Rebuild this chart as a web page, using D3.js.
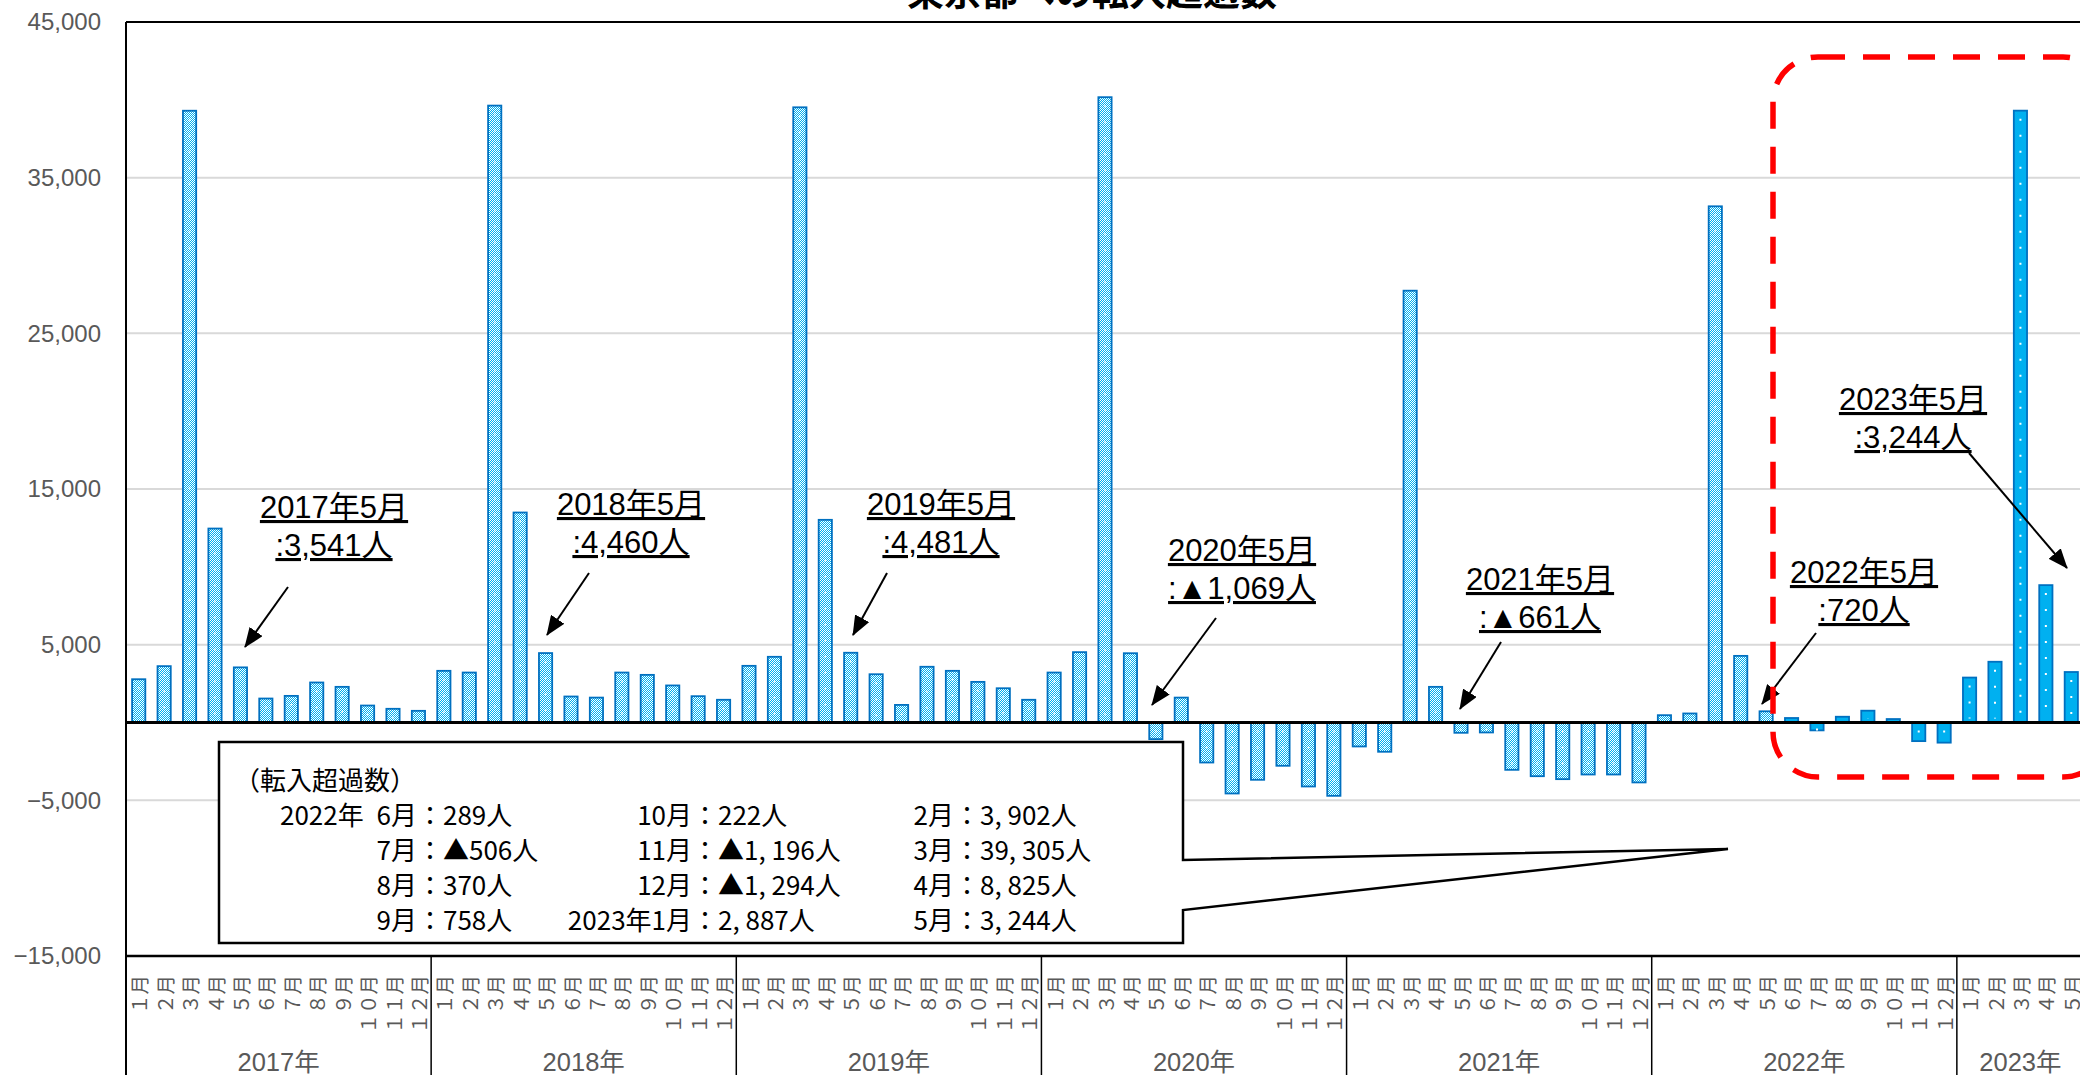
<!DOCTYPE html>
<html><head><meta charset="utf-8">
<script src="https://cdn.jsdelivr.net/npm/d3@7"></script>
<style>
html,body{margin:0;padding:0;background:#fff;overflow:hidden}
svg{display:block}
</style></head><body>
<svg id="c" width="2080" height="1075"></svg>
<script>
// ---------- data ----------
const chartTitle = "東京都への転入超過数";
const years = ["2017年","2018年","2019年","2020年","2021年","2022年","2023年"];
const monthLabels = ["１月","２月","３月","４月","５月","６月","７月","８月","９月","１０月","１１月","１２月"];
const v2017 = [2780, 3620, 39300, 12460, 3541, 1540, 1710, 2570, 2290, 1090, 880, 750];
const v2018 = [3320, 3210, 39630, 13490, 4460, 1670, 1600, 3210, 3060, 2380, 1690, 1460];
const v2019 = [3640, 4220, 39520, 13020, 4481, 3100, 1130, 3580, 3320, 2610, 2200, 1460];
const v2020 = [3210, 4520, 40170, 4450, -1069, 1600, -2570, -4560, -3680, -2780, -4110, -4710];
const v2021 = [-1540, -1880, 27740, 2290, -661, -640, -3040, -3450, -3640, -3340, -3340, -3850];
const v2022 = [470, 580, 33160, 4280, 720, 289, -506, 370, 758, 222, -1196, -1294];
const v2023 = [2887, 3902, 39305, 8825, 3244];
const yTicks = [45000, 35000, 25000, 15000, 5000, -5000, -15000];
const highlightFrom = "2022年6月";
const annTexts = [
  ["2017年5月", ":3,541人"],
  ["2018年5月", ":4,460人"],
  ["2019年5月", ":4,481人"],
  ["2020年5月", ":▲1,069人"],
  ["2021年5月", ":▲661人"],
  ["2022年5月", ":720人"],
  ["2023年5月", ":3,244人"]
];
const calloutTitle = "（転入超過数）";
const calloutYear = "2022年";
const calloutCol1 = [["6月","289人"],["7月","▲506人"],["8月","370人"],["9月","758人"]];
const calloutCol2 = [["10月","222人"],["11月","▲1, 196人"],["12月","▲1, 294人"],["2023年1月","2, 887人"]];
const calloutCol3 = [["2月","3, 902人"],["3月","39, 305人"],["4月","8, 825人"],["5月","3, 244人"]];

// ---------- layout ----------
const plot = {left:126, right:2084, top:22, bottom:956};
const annLayout = [
  {cx:334,  y1:518, ax:288,  ay:587, tx:245,  ty:647},
  {cx:631,  y1:515, ax:589,  ay:573, tx:547,  ty:635},
  {cx:941,  y1:515, ax:887,  ay:573, tx:853,  ty:635},
  {cx:1242, y1:561, ax:1216, ay:618, tx:1152, ty:705},
  {cx:1540, y1:590, ax:1501, ay:642, tx:1460, ty:709},
  {cx:1864, y1:583, ax:1816, ay:633, tx:1762, ty:704},
  {cx:1913, y1:410, ax:1969, ay:453, tx:2067, ty:568}
];
const lineGap = 38;

const values = [].concat(v2017, v2018, v2019, v2020, v2021, v2022, v2023);
const keys = values.map((v,i) => years[Math.floor(i/12)].replace("年","") + "年" + (i%12+1) + "月");
const hiIndex = keys.indexOf(highlightFrom);

const svg = d3.select("#c");
const x = d3.scaleBand().domain(d3.range(values.length))
  .range([plot.left, plot.right]).paddingInner(0.48).paddingOuter(0.24);
const y = d3.scaleLinear().domain([-15000, 45000]).range([plot.bottom, plot.top]);
const step = x.step();

// ---------- defs ----------
const defs = svg.append("defs");
const chk = defs.append("pattern").attr("id","chk").attr("patternUnits","userSpaceOnUse")
  .attr("width",2).attr("height",2);
chk.append("rect").attr("width",2).attr("height",2).attr("fill","#00B0F0");
chk.append("rect").attr("width",1).attr("height",1).attr("fill","#fff");
chk.append("rect").attr("x",1).attr("y",1).attr("width",1).attr("height",1).attr("fill","#fff");
defs.append("marker").attr("id","ah").attr("viewBox","0 0 20 16")
  .attr("refX",19).attr("refY",8).attr("markerWidth",20).attr("markerHeight",16)
  .attr("markerUnits","userSpaceOnUse").attr("orient","auto")
  .append("path").attr("d","M0,0 L20,8 L0,16 Z").attr("fill","#000");

// ---------- gridlines ----------
svg.append("g").selectAll("line")
  .data(yTicks.filter(t => t !== 45000 && t !== -15000))
  .join("line")
  .attr("x1", plot.left).attr("x2", plot.right)
  .attr("y1", d => y(d)).attr("y2", d => y(d))
  .attr("stroke", "#D9D9D9").attr("stroke-width", 2);

// ---------- bars ----------
const bars = svg.append("g");
bars.selectAll("rect").data(values).join("rect")
  .attr("x", (d,i) => x(i))
  .attr("width", x.bandwidth())
  .attr("y", d => y(Math.max(0,d)))
  .attr("height", d => Math.abs(y(d) - y(0)))
  .attr("fill", (d,i) => i >= hiIndex ? "#00B0F0" : "url(#chk)")
  .attr("stroke", "#0070C0").attr("stroke-width", 1.8);
// white dots inside bars
bars.selectAll("line").data(values).join("line")
  .attr("x1", (d,i) => x(i) + x.bandwidth()/2).attr("x2", (d,i) => x(i) + x.bandwidth()/2)
  .attr("y1", d => y(Math.max(0,d)) + 8)
  .attr("y2", d => y(Math.min(0,d)) - 4)
  .attr("stroke", "#fff")
  .attr("stroke-width", (d,i) => i >= hiIndex ? 2 : 1.5)
  .attr("stroke-opacity", (d,i) => i >= hiIndex ? 1 : 0.8)
  .attr("stroke-dasharray", "2 14");

// zero line
svg.append("line").attr("x1", plot.left).attr("x2", plot.right)
  .attr("y1", y(0)).attr("y2", y(0)).attr("stroke", "#000").attr("stroke-width", 3);

// ---------- frame ----------
svg.append("line").attr("x1", plot.left).attr("x2", plot.right)
  .attr("y1", plot.top).attr("y2", plot.top).attr("stroke", "#000").attr("stroke-width", 2);
svg.append("line").attr("x1", plot.left).attr("x2", plot.left)
  .attr("y1", plot.top).attr("y2", 1075).attr("stroke", "#000").attr("stroke-width", 2);
svg.append("line").attr("x1", plot.left).attr("x2", plot.right)
  .attr("y1", plot.bottom).attr("y2", plot.bottom).attr("stroke", "#000").attr("stroke-width", 2.5);
svg.append("g").selectAll("line").data(d3.range(1, years.length))
  .join("line")
  .attr("x1", k => plot.left + step*12*k).attr("x2", k => plot.left + step*12*k)
  .attr("y1", plot.bottom).attr("y2", 1075)
  .attr("stroke", "#000").attr("stroke-width", 1.5);

// ---------- y axis ----------
const gy = svg.append("g").attr("transform", `translate(${plot.left},0)`)
  .call(d3.axisLeft(y).tickValues(yTicks).tickSize(0).tickPadding(25).tickFormat(d3.format(",")));
gy.select(".domain").remove();
gy.selectAll("text").attr("fill", "#595959")
  .style("font-family", "'Liberation Sans', Arial, sans-serif").style("font-size", "24px");

// ---------- x axis (months) ----------
const gx = svg.append("g").attr("transform", `translate(0,${plot.bottom})`)
  .call(d3.axisBottom(x).tickSize(0).tickFormat(i => monthLabels[i % 12]));
gx.select(".domain").remove();
gx.selectAll("text")
  .attr("transform", "rotate(-90)")
  .attr("x", -19).attr("y", 0).attr("dy", null)
  .attr("text-anchor", "end")
  .attr("dominant-baseline", "central")
  .attr("fill", "#595959")
  .style("font-family", "'Noto Sans CJK JP', sans-serif").style("font-size", "19.5px");

// year labels
svg.append("g").selectAll("text").data(years).join("text")
  .attr("x", (d,k) => {
    const n = Math.min(12, values.length - 12*k);
    return plot.left + step*(12*k + n/2);
  })
  .attr("y", 1071)
  .attr("text-anchor", "middle")
  .attr("fill", "#595959")
  .style("font-family", "'Liberation Sans', 'Noto Sans CJK JP', sans-serif").style("font-size", "25.5px")
  .text(d => d);

// ---------- callout ----------
const cb = {l:219, r:1183, t:742, b:943, p1:860, p2:910, tipX:1728, tipY:849};
svg.append("path")
  .attr("d", `M${cb.l},${cb.t} H${cb.r} V${cb.p1} L${cb.tipX},${cb.tipY} L${cb.r},${cb.p2} V${cb.b} H${cb.l} Z`)
  .attr("fill", "#fff").attr("stroke", "#000").attr("stroke-width", 2.5).attr("stroke-linejoin", "miter");
const cg = svg.append("g").style("font-family", "'Noto Sans CJK JP', sans-serif")
  .style("font-size", "26px").attr("fill", "#000");
cg.append("text").attr("x", 234).attr("y", 778).attr("dominant-baseline", "central").text(calloutTitle);
const rowY = [813, 848, 883, 918];
cg.append("text").attr("x", 280).attr("y", rowY[0]).attr("dominant-baseline", "central").text(calloutYear);
[[calloutCol1, 417], [calloutCol2, 692], [calloutCol3, 954]].forEach(([col, cx]) => {
  col.forEach((item, r) => {
    cg.append("text").attr("x", cx).attr("y", rowY[r]).attr("dominant-baseline", "central")
      .attr("text-anchor", "end").text(item[0]);
    cg.append("text").attr("x", cx).attr("y", rowY[r]).attr("dominant-baseline", "central")
      .text("：" + item[1]);
  });
});

// ---------- annotations ----------
const ag = svg.append("g")
  .style("font-family", "'Liberation Sans', 'Noto Sans CJK JP', sans-serif")
  .style("font-size", "31px").attr("fill", "#000");
annTexts.forEach((t, k) => {
  const L = annLayout[k];
  ag.append("text").attr("x", L.cx).attr("y", L.y1).attr("text-anchor", "middle")
    .style("text-decoration", "underline").text(t[0]);
  ag.append("text").attr("x", L.cx).attr("y", L.y1 + lineGap).attr("text-anchor", "middle")
    .style("text-decoration", "underline").text(t[1]);
  ag.append("line").attr("x1", L.ax).attr("y1", L.ay).attr("x2", L.tx).attr("y2", L.ty)
    .attr("stroke", "#000").attr("stroke-width", 2).attr("marker-end", "url(#ah)");
});

// ---------- red dashed box ----------
svg.append("rect").attr("x", 1773).attr("y", 57).attr("width", 335).attr("height", 720)
  .attr("rx", 45).attr("ry", 45)
  .attr("fill", "none").attr("stroke", "#FF0000").attr("stroke-width", 5.5)
  .attr("stroke-dasharray", "27 18");

// ---------- title ----------
svg.append("text").attr("x", 1092).attr("y", 6).attr("text-anchor", "middle")
  .style("font-family", "'Noto Sans CJK JP', sans-serif").style("font-weight", "bold")
  .style("font-size", "37px").attr("fill", "#000").text(chartTitle);
</script>
</body></html>
